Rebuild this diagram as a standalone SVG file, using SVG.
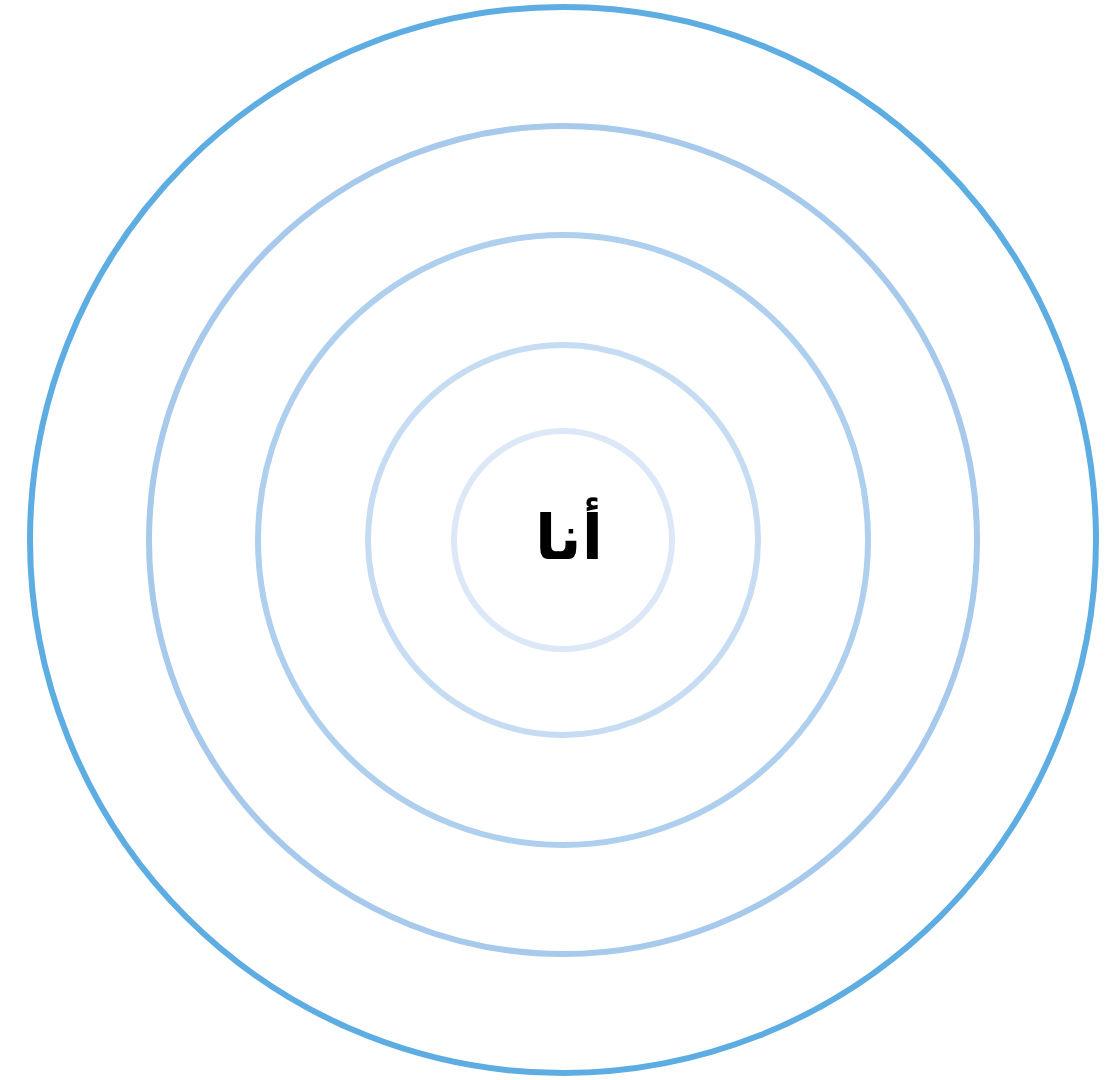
<svg xmlns="http://www.w3.org/2000/svg" width="1119" height="1080" viewBox="0 0 1119 1080">
<style>
.ring{fill:none;stroke-width:6}
.lbl{font-family:"DejaVu Sans",sans-serif;font-weight:bold;font-size:62px;fill:#000;text-anchor:middle}
</style>
<rect width="1119" height="1080" fill="#fff"/>
<g id="ring5"><circle class="ring" cx="563" cy="540" r="533" stroke="#5DADE2"/></g>
<g id="ring4"><circle class="ring" cx="563" cy="540" r="414" stroke="#A6C9EC"/></g>
<g id="ring3"><circle class="ring" cx="563" cy="540" r="305" stroke="#AECFEE"/></g>
<g id="ring2"><circle class="ring" cx="563" cy="540" r="195" stroke="#C6DCF3"/></g>
<g id="ring1"><circle class="ring" cx="563" cy="540" r="109" stroke="#DCE8F7"/></g>
<g id="me"><text class="lbl" x="569" y="559" direction="rtl">أنا</text></g>
<g id="connectors"/>
</svg>
